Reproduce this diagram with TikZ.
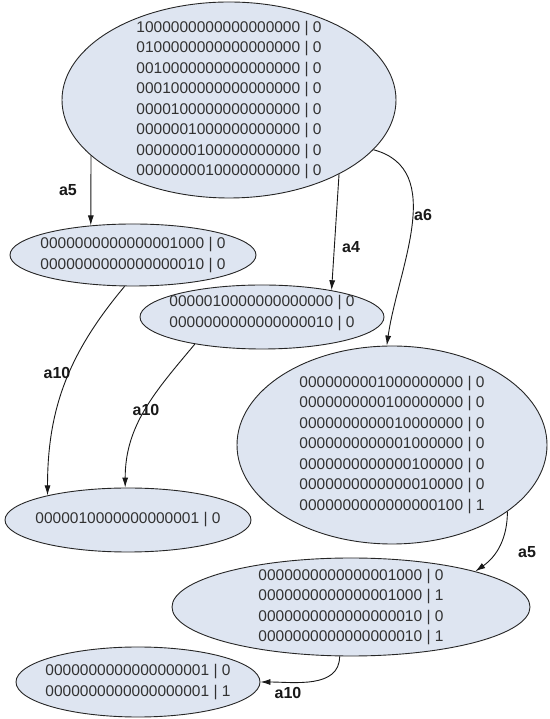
\documentclass[tikz,border=0pt]{standalone}
\usepackage{fontspec}
\setmainfont{Liberation Sans}
\usetikzlibrary{shapes.geometric,arrows.meta}
\definecolor{statefill}{RGB}{222,229,241}
\definecolor{inktext}{RGB}{50,50,50}
\begin{document}
\begin{tikzpicture}[x=1pt,y=1pt,
  state/.style={ellipse, draw=black!85, line width=0.9pt, fill=statefill, inner sep=0pt},
  rows/.style={align=center, inner sep=0pt, font=\fontsize{15.5}{20.5}\selectfont, text=inktext},
  trans/.style={draw=black!90, line width=0.9pt, -{Latex[length=10pt,width=6pt]}},
  lbl/.style={font=\fontsize{16}{18}\selectfont\bfseries, text=black!90, inner sep=0pt}]
\useasboundingbox[fill=white] (0,0) rectangle (549,719);

% state ellipses
\node[state, minimum width=334, minimum height=196] (s1) at (229,619) {};
\node[state, minimum width=246, minimum height=62]  (s2) at (133,464) {};
\node[state, minimum width=244, minimum height=64]  (s3) at (262,402) {};
\node[state, minimum width=310, minimum height=198] (s4) at (392,274) {};
\node[state, minimum width=246, minimum height=64]  (s5) at (128,199) {};
\node[state, minimum width=358, minimum height=98]  (s6) at (351,112) {};
\node[state, minimum width=244, minimum height=70]  (s7) at (138,37)  {};

% state contents
\node[rows] (t1) at (s1) {1000000000000000000 | 0\\0100000000000000000 | 0\\0010000000000000000 | 0\\0001000000000000000 | 0\\0000100000000000000 | 0\\0000001000000000000 | 0\\0000000100000000000 | 0\\0000000010000000000 | 0};
\node[rows] (t2) at (s2) {0000000000000001000 | 0\\0000000000000000010 | 0};
\node[rows] (t3) at ([yshift=4]s3) {0000010000000000000 | 0\\0000000000000000010 | 0};
\node[rows] (t4) at (s4) {0000000001000000000 | 0\\0000000000100000000 | 0\\0000000000010000000 | 0\\0000000000001000000 | 0\\0000000000000100000 | 0\\0000000000000010000 | 0\\0000000000000000100 | 1};
\node[rows] (t5) at (s5) {0000010000000000001 | 0};
\node[rows] (t6) at (s6) {0000000000000001000 | 0\\0000000000000001000 | 1\\0000000000000000010 | 0\\0000000000000000010 | 1};
\node[rows] (t7) at (s7) {0000000000000000001 | 0\\0000000000000000001 | 1};

% transitions
\draw[trans] (s1.202) -- (s2.145);
\draw[trans] (s1.326) -- (s3.21);
\draw[trans] (s1.341) to[out=-15, in=82] (s4.93);
\draw[trans] (s2.255) to[out=-130, in=90] (s5.163);
\draw[trans] (s3.202) to[out=-130, in=90] (s5.95);
\draw[trans] (s4.330) to[out=-90, in=35] (s6.16);
\draw[trans] (s6.257) to[out=-90, in=0] (s7.0);

% transition labels
\node[lbl] (l1) at (68,529) {a5};
\node[lbl] (l2) at (351,472) {a4};
\node[lbl] (l3) at (423,504) {a6};
\node[lbl] (l4) at (57,346) {a10};
\node[lbl] (l5) at (146,309) {a10};
\node[lbl] (l6) at (527,167) {a5};
\node[lbl] (l7) at (288,26) {a10};
\end{tikzpicture}
\end{document}
